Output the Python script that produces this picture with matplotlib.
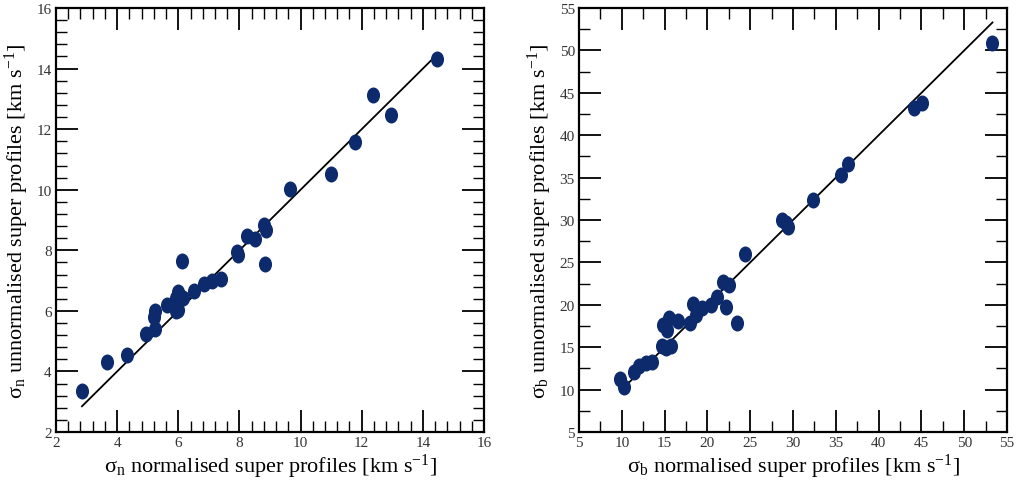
import numpy as np
import matplotlib
matplotlib.use("Agg")
import matplotlib.pyplot as plt
from matplotlib.path import Path
from matplotlib.transforms import Affine2D
from matplotlib.ticker import MultipleLocator

plt.rcParams['font.family'] = ['Liberation Serif', 'DejaVu Serif']
plt.rcParams['mathtext.fontset'] = 'custom'
plt.rcParams['mathtext.rm'] = 'Liberation Serif'
plt.rcParams['mathtext.it'] = 'Liberation Serif:italic'

# sigma_n: normalised vs unnormalised super profiles
sn_norm = [2.85, 3.66, 4.31, 4.94, 5.25, 5.19, 5.24, 5.62, 5.93, 6.00,
           5.94, 5.98, 6.05, 6.14, 6.12, 6.52, 6.83, 7.10, 7.39, 7.92,
           7.94, 8.83, 8.25, 8.50, 8.79, 8.86, 9.64, 11.01, 11.77, 12.38,
           12.97, 14.47]
sn_unnorm = [3.37, 4.32, 4.54, 5.25, 5.41, 5.80, 6.01, 6.20, 5.99, 6.04,
             6.43, 6.62, 6.48, 6.41, 7.66, 6.65, 6.90, 6.98, 7.05, 7.96,
             7.85, 7.54, 8.48, 8.38, 8.84, 8.67, 10.04, 10.52, 11.56, 13.12,
             12.48, 14.31]
sn_line = [2.85, 14.42]

# sigma_b: normalised vs unnormalised super profiles
sb_norm = [53.28, 44.12, 45.09, 36.43, 35.62, 32.38, 28.67, 29.14, 29.41, 24.38,
           21.80, 22.51, 21.07, 20.40, 22.20, 23.49, 19.39, 18.69, 18.34, 17.95,
           16.62, 15.49, 14.83, 15.26, 14.71, 15.14, 15.76, 13.50, 12.84, 12.02,
           11.44, 9.80, 10.30]
sb_unnorm = [50.87, 43.23, 43.78, 36.61, 35.35, 32.40, 29.96, 29.60, 29.13, 25.94,
             22.73, 22.37, 20.88, 19.94, 19.75, 17.86, 19.59, 18.84, 20.06, 17.86,
             18.14, 18.49, 17.59, 17.08, 15.16, 14.92, 15.16, 13.27, 13.08, 12.80,
             12.06, 11.31, 10.33]
sb_line = [9.8, 53.3]

dot_color = '#0c2a6c'
ellipse = Path.unit_circle().transformed(Affine2D().scale(0.8, 1.0))

fig = plt.figure(figsize=(10.16, 4.85), dpi=100)
ax1 = fig.add_axes([0.0551, 0.1072, 0.4213, 0.8742])
ax2 = fig.add_axes([0.5699, 0.1072, 0.4213, 0.8742])


def style(ax, lim, major, minor, sub):
    ax.set_xlim(*lim)
    ax.set_ylim(*lim)
    ax.xaxis.set_major_locator(MultipleLocator(major))
    ax.yaxis.set_major_locator(MultipleLocator(major))
    ax.xaxis.set_minor_locator(MultipleLocator(minor))
    ax.yaxis.set_minor_locator(MultipleLocator(minor))
    ax.tick_params(which='both', direction='in', top=True, right=True,
                   colors='black', labelcolor='#333333', labelsize=11)
    ax.tick_params(which='major', length=16, width=1.3, pad=3)
    ax.tick_params(which='minor', length=8, width=1.0)
    for s in ax.spines.values():
        s.set_linewidth(1.6)
    ax.set_xlabel('σ$_{\\rm ' + sub + '}$ normalised super profiles [km s$^{-1}$]',
                  fontsize=16, labelpad=2)
    ax.set_ylabel('σ$_{\\rm ' + sub + '}$ unnormalised super profiles [km s$^{-1}$]',
                  fontsize=16, labelpad=4)


ax1.plot(sn_line, sn_line, color='black', lw=1.3)
ax1.plot(sn_norm, sn_unnorm, ls='none', marker=ellipse, ms=10.5,
         color=dot_color, mec=dot_color)
style(ax1, (2, 16), 2, 0.4, 'n')

ax2.plot(sb_line, sb_line, color='black', lw=1.3)
ax2.plot(sb_norm, sb_unnorm, ls='none', marker=ellipse, ms=10.5,
         color=dot_color, mec=dot_color)
style(ax2, (5, 55), 5, 2.5, 'b')

fig.savefig('out.png', dpi=100)
